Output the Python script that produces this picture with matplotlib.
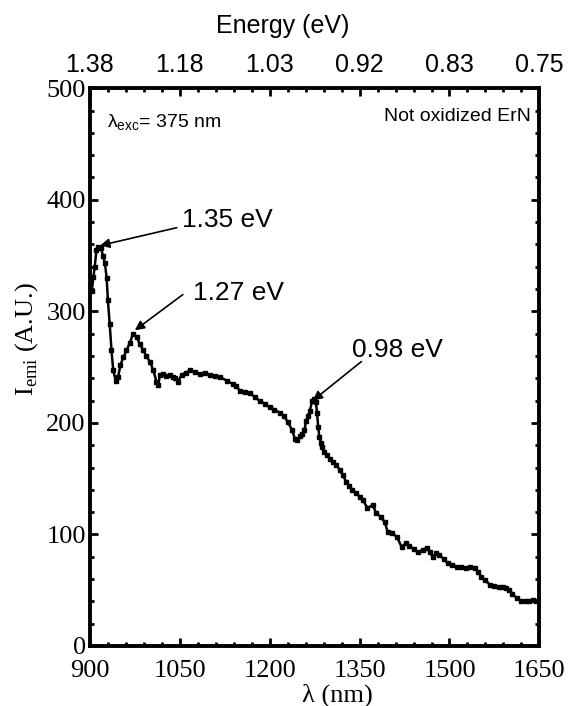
import numpy as np
import matplotlib.pyplot as plt

# emission spectrum
wl = [903, 906, 908, 911, 913, 918, 922, 925, 928, 930, 933, 936, 939, 943,
      947, 951, 956, 961, 967, 972, 978, 983, 989, 994, 1000, 1006, 1011, 1014,
      1017, 1022, 1027, 1033, 1038, 1042, 1047, 1053, 1060, 1067, 1075, 1083,
      1092, 1100, 1108, 1117, 1128, 1138, 1144, 1150, 1158, 1167, 1175, 1183,
      1192, 1200, 1208, 1217, 1224, 1230, 1237, 1242, 1246, 1250, 1254, 1258,
      1261, 1264, 1267, 1271, 1274, 1277, 1279, 1281, 1283, 1286, 1288, 1291,
      1295, 1300, 1305, 1311, 1317, 1322, 1328, 1333, 1338, 1344, 1350, 1355,
      1363, 1372, 1378, 1385, 1392, 1397, 1404, 1412, 1420, 1427, 1433, 1440,
      1447, 1455, 1462, 1467, 1472, 1478, 1483, 1490, 1497, 1505, 1512, 1520,
      1528, 1535, 1542, 1548, 1553, 1560, 1567, 1575, 1583, 1590, 1595, 1600,
      1605, 1612, 1620, 1627, 1633, 1640, 1645]
inten = [318, 331, 340, 355, 358, 357, 350, 343, 330, 310, 289, 265, 247, 238,
         241, 252, 259, 265, 272, 280, 277, 271, 265, 260, 255, 247, 237, 234,
         243, 244, 242, 243, 241, 240, 237, 243, 245, 247, 246, 244,
         245, 243, 242, 241, 238, 235, 233, 229, 228, 227, 223, 220,
         217, 214, 212, 209, 206, 201, 194, 186, 185, 188, 190, 194,
         202, 206, 211, 220, 221, 219, 209, 196, 187, 182, 178, 174,
         171, 168, 165, 162, 158, 153, 147, 143, 140, 137, 134, 131,
         124, 126, 119, 116, 111, 102, 101, 98, 89, 92, 90, 87,
         84, 86, 88, 84, 80, 83, 82, 78, 74, 73, 71, 71,
         70, 71, 70, 66, 62, 59, 55, 54, 53, 53, 52, 50,
         47, 43, 40, 40, 40, 41, 40]

xticks = [900, 1050, 1200, 1350, 1500, 1650]
energy_labels = ['1.38', '1.18', '1.03', '0.92', '0.83', '0.75']

# peak head (x, y), arrow tail (x, y), label position (x, y), text
peaks = [(917, 359, 1045, 375, 1053, 382, '1.35 eV'),
         (975, 283, 1055, 315, 1072, 316, '1.27 eV'),
         (1272, 220, 1353, 255, 1337, 265, '0.98 eV')]

serif = 'Liberation Serif'
sans = 'Liberation Sans'

fig = plt.figure(figsize=(5.8, 7.06), dpi=100)
ax = fig.add_axes([0.155, 0.085, 0.775, 0.79])

ax.plot(wl, inten, '-s', color='black', lw=1.8, markersize=3.4)

ax.set_xlim(900, 1650)
ax.set_ylim(0, 500)
ax.set_xticks(xticks)
ax.set_xticks(np.arange(900, 1651, 30), minor=True)
ax.set_yticks(np.arange(0, 501, 100))
ax.set_yticks(np.arange(0, 501, 20), minor=True)
ax.tick_params(which='both', direction='in', top=True, right=True, width=2)
ax.tick_params(which='major', length=6, labelsize=19)
ax.tick_params(which='minor', length=3)
ax.tick_params(axis='x', pad=10)
ax.tick_params(axis='y', pad=3)
for lab in ax.get_xticklabels() + ax.get_yticklabels():
    lab.set_family(serif)
for s in ax.spines.values():
    s.set_linewidth(2.8)

ax.set_xlabel('λ (nm)', family=serif, fontsize=19, va='center')
ax.xaxis.set_label_coords(0.55, -0.088)
ax.set_ylabel(r'I$_{\mathregular{emi}}$ (A.U.)', family=serif, fontsize=19,
              va='center')
ax.yaxis.set_label_coords(-0.14, 0.55)

ax2 = ax.twiny()
ax2.set_xlim(ax.get_xlim())
ax2.set_xticks(xticks)
ax2.set_xticklabels(energy_labels, family=sans, fontsize=18)
ax2.set_xticks(np.arange(900, 1651, 30), minor=True)
ax2.tick_params(which='both', direction='in', width=2, pad=8)
ax2.tick_params(which='major', length=6)
ax2.tick_params(which='minor', length=3)
ax2.set_xlabel('Energy (eV)', family=sans, fontsize=18, va='center')
ax2.xaxis.set_label_coords(0.43, 1.111)

for hx, hy, tx, ty, lx, ly, t in peaks:
    ax.annotate('', xy=(hx, hy), xytext=(tx, ty),
                arrowprops=dict(arrowstyle='-|>', color='black', lw=1.2,
                                mutation_scale=14, shrinkA=0, shrinkB=0))
    ax.text(lx, ly, t, family=sans, fontsize=19, va='center', ha='left')

ax.text(928, 469, 'λ$_{\\mathregular{exc}}$= 375 nm', family=sans,
        fontsize=14, va='center', ha='left')
ax.text(1636, 475, 'Not oxidized ErN', family=sans, fontsize=14,
        va='center', ha='right')

fig.savefig('out.png', dpi=100)
